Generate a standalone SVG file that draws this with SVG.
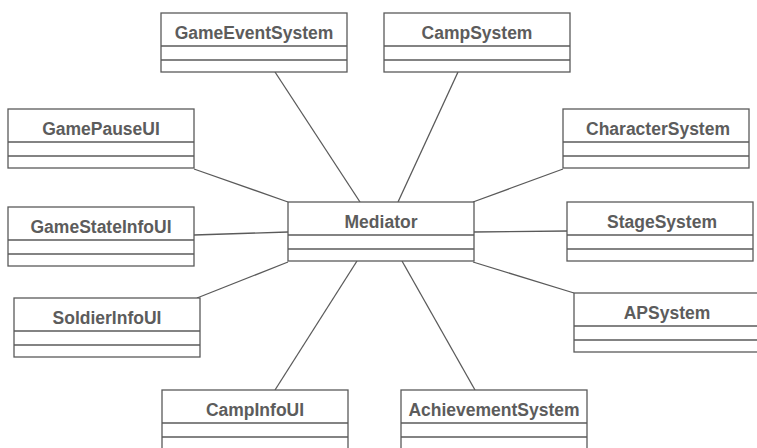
<svg xmlns="http://www.w3.org/2000/svg" xmlns:xlink="http://www.w3.org/1999/xlink" width="757" height="448" viewBox="0 0 757 448">
  <style>
    .frame { fill: #ffffff; stroke: #5a5a5a; stroke-width: 1.3; }
    .sep { stroke: #5a5a5a; stroke-width: 1.3; }
    .name { font-family: "Liberation Sans", Arial, sans-serif; font-weight: bold; font-size: 17.5px; fill: #5c5c5c; text-anchor: middle; }
    .link { stroke: #5a5a5a; stroke-width: 1.3; fill: none; }
  </style>
  <defs>
    <!-- UML class box: name compartment, attributes, operations -->
    <g id="classBox">
      <rect class="frame" x="0" y="0" width="186" height="59"/>
      <line class="sep" x1="0" y1="33" x2="186" y2="33"/>
      <line class="sep" x1="0" y1="47" x2="186" y2="47"/>
    </g>
  </defs>
  <rect width="757" height="448" fill="#ffffff"/>

  <g id="connectors">
    <line class="link" x1="275" y1="72" x2="360" y2="202"/>
    <line class="link" x1="458" y1="72" x2="398" y2="202"/>
    <line class="link" x1="194" y1="169" x2="288" y2="202"/>
    <line class="link" x1="194" y1="235" x2="288" y2="232"/>
    <line class="link" x1="197" y1="298" x2="288" y2="262"/>
    <line class="link" x1="275" y1="390" x2="357" y2="261"/>
    <line class="link" x1="475" y1="390" x2="402" y2="261"/>
    <line class="link" x1="574" y1="293" x2="473" y2="262"/>
    <line class="link" x1="568" y1="231" x2="473" y2="232"/>
    <line class="link" x1="563" y1="169" x2="473" y2="202"/>
  </g>

  <g id="GameEventSystem">
    <use xlink:href="#classBox" x="161" y="13"/>
    <text class="name" x="254" y="39">GameEventSystem</text>
  </g>
  <g id="CampSystem">
    <use xlink:href="#classBox" x="384" y="13"/>
    <text class="name" x="477" y="39">CampSystem</text>
  </g>
  <g id="GamePauseUI">
    <use xlink:href="#classBox" x="8" y="109"/>
    <text class="name" x="101" y="135">GamePauseUI</text>
  </g>
  <g id="CharacterSystem">
    <use xlink:href="#classBox" x="563" y="109"/>
    <text class="name" x="658" y="135">CharacterSystem</text>
  </g>
  <g id="GameStateInfoUI">
    <use xlink:href="#classBox" x="8" y="207"/>
    <text class="name" x="101" y="233">GameStateInfoUI</text>
  </g>
  <g id="Mediator">
    <use xlink:href="#classBox" x="288" y="202"/>
    <text class="name" x="381" y="228">Mediator</text>
  </g>
  <g id="StageSystem">
    <use xlink:href="#classBox" x="567" y="202"/>
    <text class="name" x="662" y="228">StageSystem</text>
  </g>
  <g id="SoldierInfoUI">
    <use xlink:href="#classBox" x="14" y="298"/>
    <text class="name" x="107" y="324">SoldierInfoUI</text>
  </g>
  <g id="APSystem">
    <use xlink:href="#classBox" x="574" y="293"/>
    <text class="name" x="667" y="319">APSystem</text>
  </g>
  <g id="CampInfoUI">
    <use xlink:href="#classBox" x="162" y="390"/>
    <text class="name" x="255" y="416">CampInfoUI</text>
  </g>
  <g id="AchievementSystem">
    <use xlink:href="#classBox" x="401" y="390"/>
    <text class="name" x="494" y="416">AchievementSystem</text>
  </g>
</svg>
